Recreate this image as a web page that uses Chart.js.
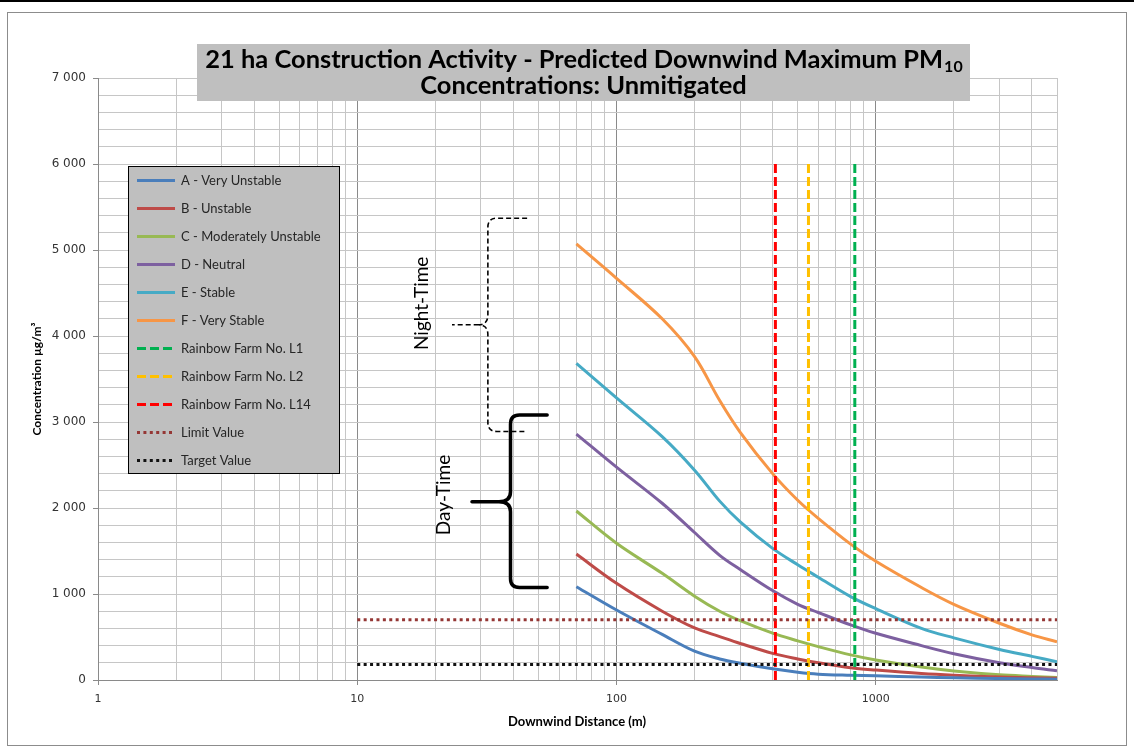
<!DOCTYPE html>
<html>
<head>
<meta charset="utf-8">
<title>21 ha Construction Activity - Predicted Downwind Maximum PM10</title>
<script src="https://cdn.jsdelivr.net/npm/chart.js@4.4.1/dist/chart.umd.min.js"></script>
<style>
  html, body { margin: 0; padding: 0; background: #ffffff; }
  #wrap { width: 1134px; height: 749px; position: relative; }
</style>
</head>
<body>
<div id="wrap"><canvas id="chart" width="1134" height="749"></canvas></div>
<script>
// Downwind distances (m) at which the maximum concentrations are given
const distances = [70, 100, 150, 200, 250, 300, 400, 500, 600, 800, 1000, 1500, 2000, 3000, 4000, 5000];

// Predicted maximum PM10 concentrations (µg/m³) per stability class
const classA = [1085, 814, 530, 335, 245, 195, 130, 90, 68, 55, 48, 35, 25, 17, 13, 10];
const classB = [1465, 1124, 800, 605, 505, 425, 310, 245, 200, 142, 115, 75, 55, 35, 27, 20];
const classC = [1965, 1590, 1240, 975, 800, 690, 545, 455, 388, 292, 233, 150, 105, 60, 42, 30];
const classD = [2860, 2475, 2055, 1715, 1450, 1285, 1040, 880, 785, 640, 543, 400, 305, 200, 145, 108];
const classE = [3683, 3280, 2830, 2440, 2080, 1840, 1530, 1340, 1195, 970, 830, 600, 490, 355, 275, 213];
const classF = [5070, 4670, 4200, 3760, 3250, 2880, 2400, 2090, 1880, 1580, 1380, 1075, 880, 660, 525, 445];

const classNames = ['A - Very Unstable', 'B - Unstable', 'C - Moderately Unstable', 'D - Neutral', 'E - Stable', 'F - Very Stable'];
const classColors = ['#4a7ebb', '#be4b48', '#98b954', '#7d60a0', '#46aac5', '#f79646'];

// Sensitive receptors (distance from the site, m)
const receptorNames = ['Rainbow Farm No. L1', 'Rainbow Farm No. L2', 'Rainbow Farm No. L14'];
const receptorDistances = [830, 550, 410];
const receptorColors = ['#00b050', '#ffc000', '#ff0000'];
const receptorSpan = [0, 6000];

// Standards
const standardNames = ['Limit Value', 'Target Value'];
const standardValues = [700, 180];
const standardColors = ['#953735', '#111111'];
const standardSpan = [10, 5000];

// Axis ticks
const xTickValues = [1, 2, 3, 4, 5, 6, 7, 8, 9, 10, 20, 30, 40, 50, 60, 70, 80, 90,
  100, 200, 300, 400, 500, 600, 700, 800, 900, 1000, 2000, 3000, 4000, 5000];
const xTickLabels = ['1', '10', '100', '1000'];
const yTickLabels = ['0', '1 000', '2 000', '3 000', '4 000', '5 000', '6 000', '7 000'];

// Day / night groupings of the stability classes (braces in data units)
const braces = [
  { text: 'Night-Time', dashed: true, xLead: 23.2, xTip: 29.4, xVert: 31.9, xEnd: 45.2, yTop: 5370, yMid: 4130, yBottom: 2890, textX: 17.7, textY: 4380 },
  { text: 'Day-Time', dashed: false, xLead: 27.7, xTip: 35.2, xVert: 39.0, xEnd: 54.0, yTop: 3080, yMid: 2073, yBottom: 1075, textX: 21.6, textY: 2151 }
];

const classSeries = [classA, classB, classC, classD, classE, classF];

const datasets = [];
classSeries.forEach((vals, i) => {
  datasets.push({
    label: classNames[i],
    data: distances.map((d, k) => ({ x: d, y: vals[k] })),
    borderColor: classColors[i],
    backgroundColor: classColors[i],
    borderWidth: 3,
    pointRadius: 0,
    tension: 0.35,
    fill: false,
    order: 10
  });
});
receptorNames.forEach((name, i) => {
  datasets.push({
    label: name,
    data: receptorSpan.map(v => ({ x: receptorDistances[i], y: v })),
    borderColor: receptorColors[i],
    backgroundColor: receptorColors[i],
    borderWidth: 3,
    borderDash: [9, 4],
    borderCapStyle: 'butt',
    pointRadius: 0,
    tension: 0,
    fill: false,
    order: 1
  });
});
standardNames.forEach((name, i) => {
  datasets.push({
    label: name,
    data: standardSpan.map(d => ({ x: d, y: standardValues[i] })),
    borderColor: standardColors[i],
    backgroundColor: standardColors[i],
    borderWidth: 3,
    borderDash: [3, 3.4],
    borderCapStyle: 'butt',
    pointRadius: 0,
    tension: 0,
    fill: false,
    order: 0
  });
});

const isDecade = v => Math.abs(Math.log10(v) - Math.round(Math.log10(v))) < 1e-9;

const GRID_MINOR = '#c6c6c6';
const GRID_MAJOR = '#8a8a8a';
const AXIS = '#8a8a8a';
const TEXT = '#333333';

// Page frame
const framePlugin = {
  id: 'frame',
  beforeDraw(chart) {
    const ctx = chart.ctx;
    ctx.save();
    ctx.fillStyle = '#ffffff';
    ctx.fillRect(0, 0, chart.width, chart.height);
    ctx.fillStyle = '#000000';
    ctx.fillRect(0, 0, chart.width, 2);
    ctx.strokeStyle = '#8c8c8c';
    ctx.lineWidth = 1;
    ctx.strokeRect(7.5, 12.5, 1119, 733);
    ctx.restore();
  }
};

// Curly braces with their labels
const bracePlugin = {
  id: 'braces',
  afterDatasetsDraw(chart) {
    const ctx = chart.ctx;
    const xs = chart.scales.x, ys = chart.scales.y;
    braces.forEach(b => {
      const xv = xs.getPixelForValue(b.xVert), xe = xs.getPixelForValue(b.xEnd);
      const xt = xs.getPixelForValue(b.xTip), xl = xs.getPixelForValue(b.xLead);
      const yt = ys.getPixelForValue(b.yTop), ym = ys.getPixelForValue(b.yMid), yb = ys.getPixelForValue(b.yBottom);
      const r = 9, tip = 10;
      ctx.save();
      ctx.strokeStyle = '#000000';
      ctx.lineWidth = b.dashed ? 1.6 : 3.5;
      ctx.setLineDash(b.dashed ? [5, 3] : []);
      ctx.lineJoin = 'round';
      ctx.lineCap = b.dashed ? 'butt' : 'round';
      ctx.beginPath();
      ctx.moveTo(xe, yt);
      ctx.lineTo(xv + r, yt);
      ctx.quadraticCurveTo(xv, yt, xv, yt + r);
      ctx.lineTo(xv, ym - tip);
      ctx.quadraticCurveTo(xv, ym, xt, ym);
      ctx.quadraticCurveTo(xv, ym, xv, ym + tip);
      ctx.lineTo(xv, yb - r);
      ctx.quadraticCurveTo(xv, yb, xv + r, yb);
      ctx.lineTo(xe, yb);
      ctx.moveTo(xt, ym);
      ctx.lineTo(xl, ym);
      ctx.stroke();
      ctx.restore();

      ctx.save();
      ctx.translate(xs.getPixelForValue(b.textX), ys.getPixelForValue(b.textY));
      ctx.rotate(-Math.PI / 2);
      ctx.fillStyle = '#000000';
      ctx.font = '19px Lato';
      ctx.textAlign = 'center';
      ctx.textBaseline = 'middle';
      ctx.fillText(b.text, 0, 0);
      ctx.restore();
    });
  }
};

// Title box, legend box and axis titles
const decorPlugin = {
  id: 'decor',
  afterDraw(chart) {
    const ctx = chart.ctx;
    // title
    ctx.save();
    ctx.fillStyle = '#bfbfbf';
    ctx.fillRect(197, 44, 773, 57);
    const line1 = '21 ha Construction Activity - Predicted Downwind Maximum PM';
    const sub = '10';
    const line2 = 'Concentrations: Unmitigated';
    ctx.font = 'bold 100px Lato';
    const w100 = ctx.measureText(line1).width;
    let size = 100 * 738 / w100;
    size = Math.max(18, Math.min(26, size));
    const subSize = Math.round(size * 0.62);
    ctx.font = 'bold ' + size + 'px Lato';
    const w1 = ctx.measureText(line1).width;
    ctx.font = 'bold ' + subSize + 'px Lato';
    const ws = ctx.measureText(sub).width;
    const cx = 583.5;
    const x0 = cx - (w1 + ws) / 2;
    ctx.fillStyle = '#000000';
    ctx.textBaseline = 'alphabetic';
    ctx.textAlign = 'left';
    ctx.font = 'bold ' + size + 'px Lato';
    ctx.fillText(line1, x0, 68);
    ctx.font = 'bold ' + subSize + 'px Lato';
    ctx.fillText(sub, x0 + w1 + 1, 72);
    ctx.font = 'bold ' + size + 'px Lato';
    ctx.textAlign = 'center';
    ctx.fillText(line2, cx, 94);
    ctx.restore();

    // legend
    ctx.save();
    ctx.fillStyle = '#bfbfbf';
    ctx.fillRect(128.5, 166.5, 211, 307);
    ctx.strokeStyle = '#000000';
    ctx.lineWidth = 1;
    ctx.strokeRect(128.5, 166.5, 211, 307);
    chart.data.datasets.forEach((ds, i) => {
      const y = 180 + i * 28;
      ctx.save();
      ctx.strokeStyle = ds.borderColor;
      ctx.lineWidth = ds.borderWidth;
      ctx.lineCap = 'butt';
      ctx.setLineDash(ds.borderDash || []);
      ctx.beginPath();
      ctx.moveTo(137, y + 0.5);
      ctx.lineTo(175, y + 0.5);
      ctx.stroke();
      ctx.restore();
      ctx.fillStyle = '#262626';
      ctx.font = '13px Lato';
      ctx.textAlign = 'left';
      ctx.textBaseline = 'middle';
      ctx.fillText(ds.label, 181, y + 1);
    });
    ctx.restore();

    // axis titles
    ctx.save();
    ctx.fillStyle = '#000000';
    ctx.font = 'bold 12px Lato';
    ctx.textAlign = 'center';
    ctx.textBaseline = 'middle';
    ctx.translate(37, 379);
    ctx.rotate(-Math.PI / 2);
    ctx.fillText('Concentration µg/m³', 0, 0);
    ctx.restore();
    ctx.save();
    ctx.fillStyle = '#000000';
    ctx.font = 'bold 13px Lato';
    ctx.textAlign = 'center';
    ctx.textBaseline = 'middle';
    ctx.fillText('Downwind Distance (m)', 577, 722);
    ctx.restore();
  }
};

new Chart(document.getElementById('chart'), {
  type: 'line',
  data: { datasets },
  options: {
    responsive: false,
    animation: false,
    devicePixelRatio: 1,
    layout: { padding: { top: 78, right: 77, bottom: 0, left: 0 } },
    plugins: {
      legend: { display: false },
      title: { display: false },
      tooltip: { enabled: false }
    },
    scales: {
      x: {
        type: 'logarithmic',
        position: 'bottom',
        min: 1,
        max: 5000,
        afterBuildTicks(scale) {
          scale.ticks = xTickValues.map(v => ({ value: v }));
        },
        afterFit(scale) { scale.height = 69; },
        grid: {
          color: c => (c.tick && isDecade(c.tick.value)) ? GRID_MAJOR : GRID_MINOR,
          tickColor: c => (c.tick && isDecade(c.tick.value) && c.tick.value < 5000) ? AXIS : 'rgba(0,0,0,0)',
          tickLength: 5,
          lineWidth: 1
        },
        border: { color: AXIS, width: 1 },
        ticks: {
          autoSkip: false,
          maxRotation: 0,
          minRotation: 0,
          padding: 8,
          color: TEXT,
          font: { family: 'DejaVu Sans', size: 11 },
          callback(value) {
            if (!isDecade(value)) return '';
            const idx = Math.round(Math.log10(value));
            return xTickLabels[idx] || '';
          }
        },
        title: { display: false }
      },
      y: {
        type: 'linear',
        min: 0,
        max: 7000,
        afterFit(scale) { scale.width = 98; },
        grid: {
          color: GRID_MINOR,
          tickColor: c => (c.tick && c.tick.value % 1000 === 0) ? AXIS : 'rgba(0,0,0,0)',
          tickLength: 5,
          lineWidth: 1
        },
        border: { color: AXIS, width: 1 },
        ticks: {
          stepSize: 200,
          autoSkip: false,
          padding: 7,
          color: TEXT,
          font: { family: 'DejaVu Sans', size: 12 },
          callback(value) {
            if (value % 1000 !== 0) return '';
            return yTickLabels[value / 1000];
          }
        },
        title: { display: false }
      }
    }
  },
  plugins: [framePlugin, bracePlugin, decorPlugin]
});
</script>
</body>
</html>
